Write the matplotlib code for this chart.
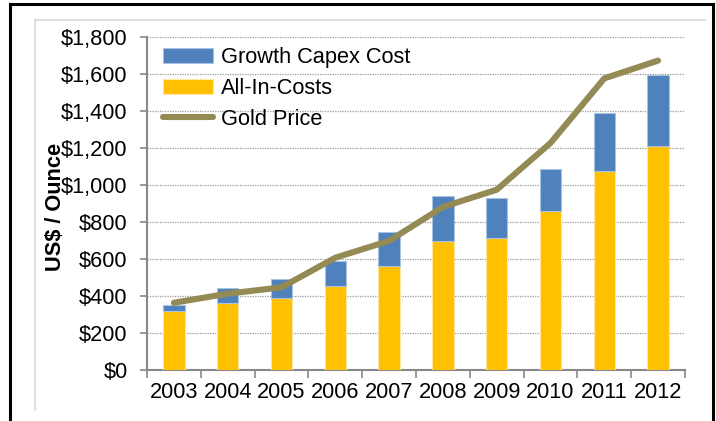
import matplotlib
matplotlib.use("Agg")
import matplotlib.pyplot as plt
from matplotlib.lines import Line2D
import numpy as np

plt.rcParams['font.family'] = ['Liberation Sans', 'DejaVu Sans']

years = ['2003', '2004', '2005', '2006', '2007', '2008', '2009', '2010', '2011', '2012']
all_in_costs = [319, 360, 386, 456, 562, 696, 714, 856, 1076, 1211]
growth_capex = [32, 83, 104, 135, 182, 243, 214, 229, 310, 380]
gold_price = [363, 412, 446, 606, 697, 880, 973, 1225, 1574, 1670]
y_ticks = [0, 200, 400, 600, 800, 1000, 1200, 1400, 1600, 1800]

blue = '#4F81BD'
yellow = '#FFC000'
olive = '#948A54'
fs = 15.7

fig = plt.figure(figsize=(7.16, 4.21), dpi=100)
ax = fig.add_axes([147/716, 1-370/421, (685-147)/716, (370-36.5)/421])

x = np.arange(len(years))
w = 0.40
ax.bar(x, all_in_costs, width=w, color=yellow, edgecolor='#FFE7A0', linewidth=0.8,
       label='All-In-Costs', zorder=3)
ax.bar(x, growth_capex, width=w, bottom=all_in_costs, color=blue, edgecolor='#A9C2E0',
       linewidth=0.8, label='Growth Capex Cost', zorder=3)
ax.plot(x, gold_price, color=olive, linewidth=4.4, solid_capstyle='round',
        solid_joinstyle='round', label='Gold Price', zorder=4)

ax.set_xlim(-0.5, len(years) - 0.5)
ax.set_ylim(0, 1800)
ax.set_yticks(y_ticks)
ax.set_yticklabels(['${:,}'.format(v) for v in y_ticks])
ax.set_xticks(x)
ax.set_xticklabels(years)
ax.set_xticks(np.arange(-0.5, len(years)), minor=True)
ax.tick_params(axis='x', which='major', length=0, pad=9, labelsize=fs)
ax.tick_params(axis='x', which='minor', length=6, color='#888888', width=1.2)
ax.tick_params(axis='y', length=5, color='#888888', width=1.2, pad=9, labelsize=fs)

for s in ['top', 'right']:
    ax.spines[s].set_visible(False)
for s in ['left', 'bottom']:
    ax.spines[s].set_color('#888888')
    ax.spines[s].set_linewidth(1.5)

ax.yaxis.grid(True, linestyle=(0, (1, 1)), color='#999999', linewidth=0.9, zorder=0)
ax.set_axisbelow(True)

ax.set_ylabel('US$ / Ounce', fontsize=fs, fontweight='bold')
ax.yaxis.set_label_coords(-0.15, 0.49)

h_bar, l_bar = ax.get_legend_handles_labels()
hd = dict(zip(l_bar, h_bar))
order = ['Growth Capex Cost', 'All-In-Costs', 'Gold Price']
leg = ax.legend([hd[k] for k in order], order, loc='upper left',
                bbox_to_anchor=(0.03, 0.968), frameon=False, fontsize=fs,
                handlelength=2.3, handleheight=0.65, handletextpad=0.35,
                labelspacing=0.45, borderpad=0, borderaxespad=0)

# outer frames
fig.add_artist(Line2D([10/716, 10/716], [0, 1-4/421], transform=fig.transFigure,
                      color='black', linewidth=2.2))
fig.add_artist(Line2D([10/716, 713/716], [1-4/421, 1-4/421], transform=fig.transFigure,
                      color='black', linewidth=2.2))
fig.add_artist(Line2D([713/716, 713/716], [0, 1-4/421], transform=fig.transFigure,
                      color='black', linewidth=2.2))
fig.add_artist(Line2D([35/716, 35/716], [1-410/421, 1-20/421], transform=fig.transFigure,
                      color='#D9D9D9', linewidth=1.2))
fig.add_artist(Line2D([35/716, 705/716], [1-20/421, 1-20/421], transform=fig.transFigure,
                      color='#D9D9D9', linewidth=1.2))

fig.savefig('out.png', dpi=100)
